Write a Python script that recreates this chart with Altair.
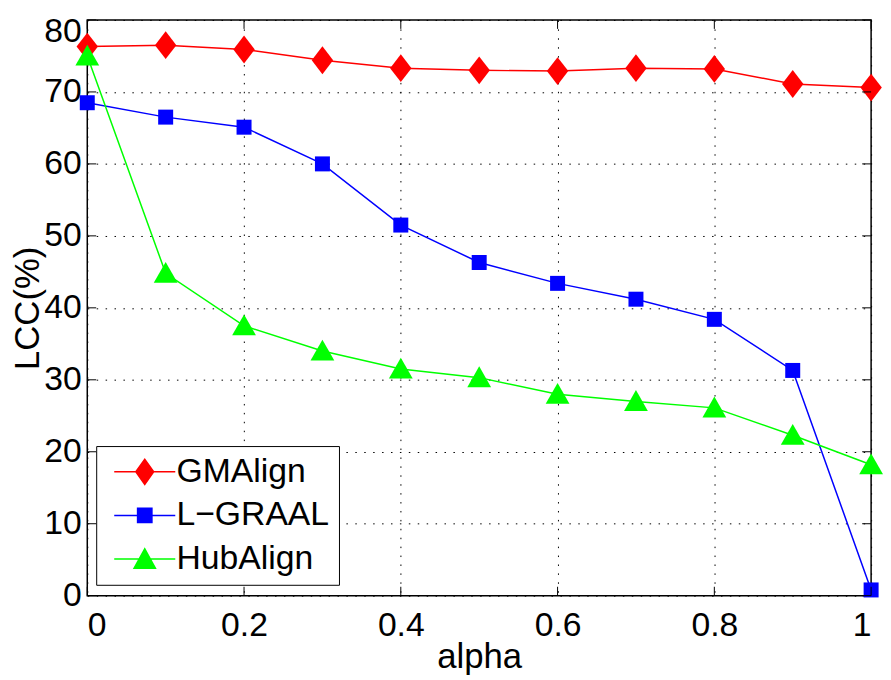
import altair as alt
import pandas as pd

alpha = [0, 0.1, 0.2, 0.3, 0.4, 0.5, 0.6, 0.7, 0.8, 0.9, 1.0]
gmalign = [76.3, 76.5, 75.9, 74.4, 73.3, 73.0, 72.9, 73.3, 73.2, 71.1, 70.6]
lgraal = [68.5, 66.5, 65.1, 60.0, 51.5, 46.3, 43.4, 41.2, 38.4, 31.3, 0.8]
hubalign = [75.0, 44.8, 37.5, 34.0, 31.5, 30.3, 28.0, 27.0, 26.1, 22.3, 18.2]
series = ["GMAlign", "L\u2212GRAAL", "HubAlign"]
colors = ["#ff0000", "#0000ff", "#00ff00"]
x_ticks = [0, 0.2, 0.4, 0.6, 0.8, 1.0]
y_ticks = [0, 10, 20, 30, 40, 50, 60, 70, 80]

rows = []
for name, vals in zip(series, [gmalign, lgraal, hubalign]):
    for a, v in zip(alpha, vals):
        rows.append({"alpha": a, "LCC": v, "series": name})
df = pd.DataFrame(rows)

W, H = 791, 581
FONT = "Liberation Sans"

marker_paths = [
    "M0,-1.17L0.9,0L0,1.17L-0.9,0Z",
    "M-0.63,-0.63H0.63V0.63H-0.63Z",
    "M0,-0.95L1,0.8L-1,0.8Z",
]
legend_paths = [
    "M-2.2,-0.055H2.2V0.055H-2.2Z M0,-1L0.71,0L0,1L-0.71,0Z",
    "M-2.2,-0.055H2.2V0.055H-2.2Z M-0.57,-0.57H0.57V0.57H-0.57Z",
    "M-2.2,-0.055H2.2V0.055H-2.2Z M0,-0.85L0.86,0.72L-0.86,0.72Z",
]

xs = alt.Scale(domain=[0, 1], nice=False)
ys = alt.Scale(domain=[0, 80], nice=False)
cscale = alt.Scale(domain=series, range=colors)

x_enc = alt.X("alpha:Q", scale=xs, axis=alt.Axis(
    values=x_ticks, format="~g", title="alpha",
    labelPadding=13, titleY=72, titleBaseline="alphabetic"))
y_enc = alt.Y("LCC:Q", scale=ys, axis=alt.Axis(
    values=y_ticks, title="LCC(%)", labelPadding=6,
    labelOffset={"condition": {"test": "datum.value == 80", "value": 12}, "value": 0},
    titleX=-60, titleY=H / 2, titleBaseline="middle"))

lines = alt.Chart(df).mark_line(strokeWidth=1.5).encode(
    x=x_enc, y=y_enc,
    color=alt.Color("series:N", scale=cscale, legend=None),
    detail="series:N",
)

points = alt.Chart(df).mark_point(filled=True, opacity=1, size=576, strokeWidth=0).encode(
    x="alpha:Q", y="LCC:Q",
    color=alt.Color("series:N", scale=cscale, legend=None),
    shape=alt.Shape("series:N", scale=alt.Scale(domain=series, range=marker_paths), legend=None),
)

leg = alt.Chart(df).transform_filter("false").mark_point(
    filled=True, opacity=1, size=784, strokeWidth=0
).encode(
    x="alpha:Q", y="LCC:Q",
    color=alt.Color("series:N", scale=cscale, title=None,
                    legend=alt.Legend(orient="none", legendX=9, legendY=430,
                                      symbolSize=784, symbolOpacity=1, symbolStrokeWidth=0,
                                      symbolOffset=23, labelOffset=15, rowPadding=10,
                                      padding=9, strokeColor="black", fillColor="white",
                                      labelFontSize=34, labelFont=FONT, labelColor="black",
                                      labelLimit=400)),
    shape=alt.Shape("series:N", scale=alt.Scale(domain=series, range=legend_paths), title=None),
)

xt = pd.DataFrame({"t": x_ticks})
yt = pd.DataFrame({"t": y_ticks})
tick_bottom = alt.Chart(xt).mark_rule(color="black", strokeWidth=1).encode(
    x=alt.X("t:Q", scale=xs), y=alt.value(H), y2=alt.value(H - 9))
tick_top = alt.Chart(xt).mark_rule(color="black", strokeWidth=1).encode(
    x=alt.X("t:Q", scale=xs), y=alt.value(0), y2=alt.value(9))
tick_left = alt.Chart(yt).mark_rule(color="black", strokeWidth=1).encode(
    y=alt.Y("t:Q", scale=ys), x=alt.value(0), x2=alt.value(9))
tick_right = alt.Chart(yt).mark_rule(color="black", strokeWidth=1).encode(
    y=alt.Y("t:Q", scale=ys), x=alt.value(W), x2=alt.value(W - 9))

chart = alt.layer(
    lines, points, tick_bottom, tick_top, tick_left, tick_right, leg
).resolve_scale(
    color="independent", shape="independent"
).properties(
    width=W, height=H,
    background="white",
    autosize=alt.AutoSizeParams(type="none"),
    padding={"left": 80, "top": 9, "right": 12, "bottom": 82},
).configure_view(
    stroke="black", strokeWidth=1.5
).configure_axis(
    grid=True, gridColor="black", gridDash=[1.5, 7.5], gridWidth=1, gridOpacity=1,
    domain=False, ticks=False,
    labelFont=FONT, labelFontSize=34, labelColor="black",
    titleFont=FONT, titleFontSize=35, titleColor="black", titleFontWeight="normal",
)

chart.save("out.html", embed_options={"renderer": "svg", "actions": False})
